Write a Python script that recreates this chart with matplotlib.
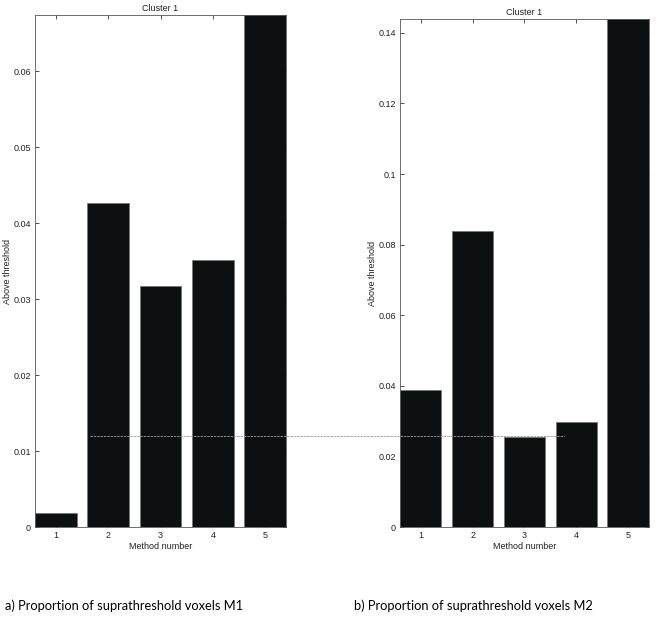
import matplotlib.pyplot as plt
from matplotlib.lines import Line2D

# values
methods = [1, 2, 3, 4, 5]
m1_vals = [0.0019, 0.0426, 0.0317, 0.0351, 0.0674]
m2_vals = [0.0388, 0.0839, 0.0256, 0.0297, 0.1439]
m1_ylim = 0.0674
m2_ylim = 0.1439
m1_ticks = [0, 0.01, 0.02, 0.03, 0.04, 0.05, 0.06]
m2_ticks = [0, 0.02, 0.04, 0.06, 0.08, 0.1, 0.12, 0.14]
m1_ticklabels = ['0', '0.01', '0.02', '0.03', '0.04', '0.05', '0.06']
m2_ticklabels = ['0', '0.02', '0.04', '0.06', '0.08', '0.1', '0.12', '0.14']
captions = ['a) Proportion of suprathreshold voxels M1',
            'b) Proportion of suprathreshold voxels M2']

plt.rcParams['font.family'] = ['Liberation Sans', 'DejaVu Sans']

fig = plt.figure(figsize=(6.62, 6.26), dpi=100)
ax1 = fig.add_axes([0.0529, 0.1581, 0.3792, 0.8179])
ax2 = fig.add_axes([0.6042, 0.1581, 0.3761, 0.8115])


def draw(ax, vals, ymax, ticks, labels):
    ax.bar(methods, vals, width=0.8, color='#0d1010', edgecolor='#777777',
           linewidth=0.6, zorder=2)
    ax.set_xlim(0.6, 5.4)
    ax.set_ylim(0, ymax)
    ax.set_xticks(methods)
    ax.set_yticks(ticks)
    ax.set_yticklabels(labels)
    ax.tick_params(direction='in', top=True, right=True, length=3, width=0.6,
                   labelsize=6.5, color='#333333', labelcolor='#222222', pad=3)
    for s in ax.spines.values():
        s.set_linewidth(0.6)
        s.set_color('#555555')
    ax.set_title('Cluster 1', fontsize=6.5, pad=3, color='#222222')
    ax.set_xlabel('Method number', fontsize=6.5, labelpad=1, color='#222222')
    ax.set_ylabel('Above threshold', fontsize=6.5, labelpad=1, color='#222222')


draw(ax1, m1_vals, m1_ylim, m1_ticks, m1_ticklabels)
draw(ax2, m2_vals, m2_ylim, m2_ticks, m2_ticklabels)

# stray gray guide line across both panels
fig.add_artist(Line2D([0.136, 0.852], [0.3035, 0.3035], transform=fig.transFigure,
                      color='#999999', linewidth=0.6, linestyle=(0, (3, 1)), zorder=5))

cap_font = ['Lato', 'DejaVu Sans']
fig.text(0.008, 0.032, captions[0], fontsize=9.3, family=cap_font,
         va='center', ha='left')
fig.text(0.535, 0.032, captions[1], fontsize=9.3, family=cap_font,
         va='center', ha='left')

fig.savefig('out.png', dpi=100)
